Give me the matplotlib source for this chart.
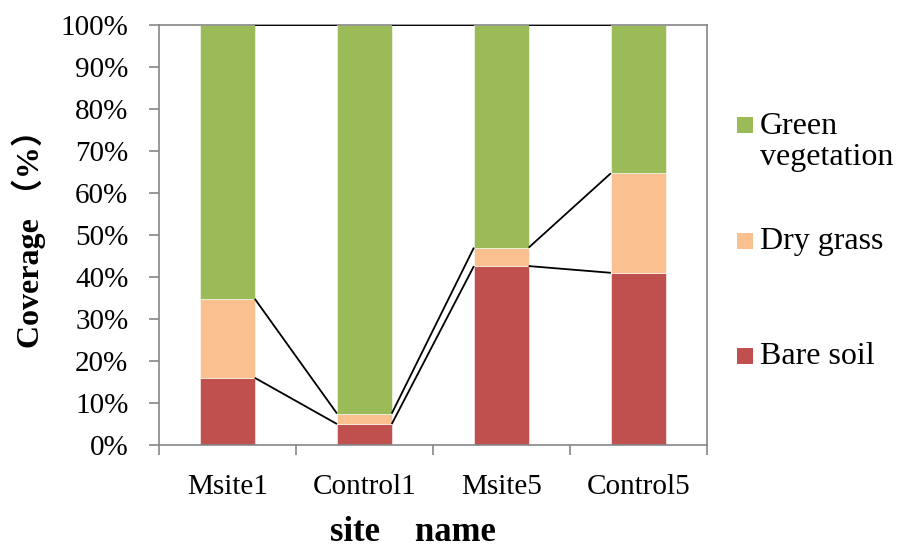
import matplotlib.pyplot as plt
import numpy as np
from matplotlib.patches import Rectangle
from matplotlib.ticker import PercentFormatter

sites = ["Msite1", "Control1", "Msite5", "Control5"]
bare_soil = [16.0, 5.0, 42.6, 41.0]
dry_grass = [18.8, 2.5, 4.4, 23.7]
green_veg = [65.2, 92.5, 53.0, 35.3]

series = [("Bare soil", bare_soil, "#c0504d"),
          ("Dry grass", dry_grass, "#fac090"),
          ("Green\nvegetation", green_veg, "#9bbb59")]

plt.rcParams['font.family'] = ['Liberation Serif', 'Noto Sans CJK SC']

fig = plt.figure(figsize=(8.98, 5.49), dpi=100)
ax = fig.add_axes([0.177, 0.1894, 0.61, 0.7651])

x = np.arange(len(sites))
width = 0.4
bottom = np.zeros(len(sites))
for name, vals, color in series:
    vals = np.array(vals)
    ax.bar(x, vals, width, bottom=bottom, color=color, label=name,
           edgecolor="white", linewidth=0.4, zorder=2)
    bottom = bottom + vals
    # series lines between neighbouring bars
    for i in range(len(sites) - 1):
        ax.plot([x[i] + width / 2, x[i + 1] - width / 2], [bottom[i], bottom[i + 1]],
                color="black", lw=1.3, zorder=3, solid_capstyle="butt")

ax.set_xlim(-0.5, len(sites) - 0.5)
ax.set_ylim(0, 100)
ax.set_yticks(range(0, 101, 10))
ax.yaxis.set_major_formatter(PercentFormatter(decimals=0))
ax.set_xticks(x)
ax.set_xticklabels(sites)
ax.set_xticks(np.arange(-0.5, len(sites)), minor=True)
ax.tick_params(axis="x", which="major", length=0, pad=21, labelsize=21)
ax.tick_params(axis="x", which="minor", length=7, width=1.2, color="#868686")
ax.tick_params(axis="y", length=7, width=1.2, color="#868686", labelsize=21, pad=15)
for s in ax.spines.values():
    s.set_color("#868686")
    s.set_linewidth(1.2)

ax.set_ylabel("Coverage （%）", fontsize=23, fontweight="bold")
ax.yaxis.set_label_coords(-0.2065, 0.51)
ax.set_xlabel("site    name", fontsize=25, fontweight="bold")
ax.xaxis.set_label_coords(0.4635, -0.168)

# legend drawn by hand, top entry first
W, H = fig.get_size_inches() * fig.dpi
legend_rows = [(series[2], 124.5), (series[1], 241), (series[0], 356)]
for (name, vals, color), yc in legend_rows:
    fig.patches.append(Rectangle((737 / W, 1 - (yc + 8) / H), 16 / W, 16 / H,
                                 transform=fig.transFigure, facecolor=color,
                                 edgecolor="none"))
    lines = name.count("\n")
    fig.text(760 / W, 1 - (yc + lines * 17.5) / H, name, fontsize=23,
             va="center", ha="left", linespacing=1.05)

plt.savefig("out.png", dpi=100)
